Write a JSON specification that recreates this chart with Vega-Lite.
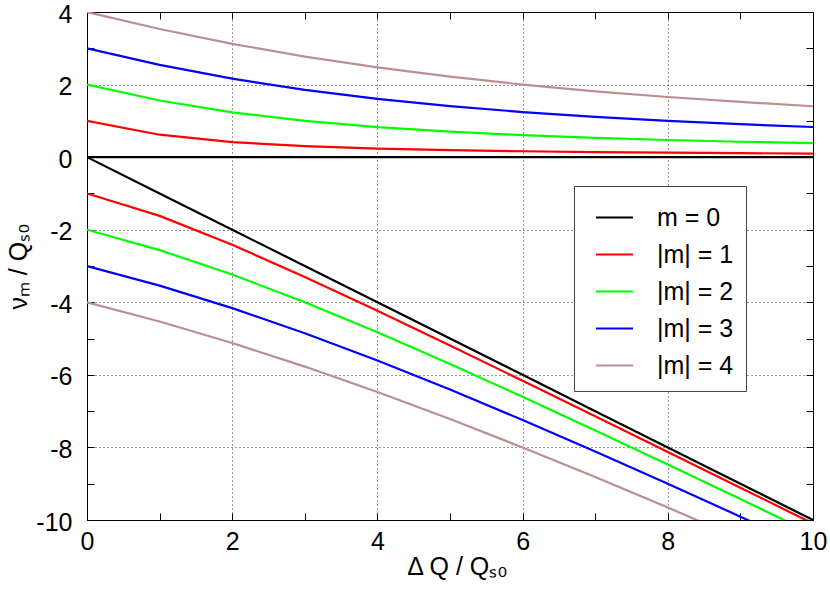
{
  "$schema": "https://vega.github.io/schema/vega-lite/v6.json",
  "width": 726,
  "height": 508,
  "autosize": {"type": "none"},
  "padding": {"left": 87, "top": 12, "right": 17, "bottom": 71},
  "background": "white",
  "config": {
    "font": "Liberation Sans",
    "view": {"stroke": "black", "strokeWidth": 1},
    "axis": {
      "labelFont": "Liberation Sans",
      "labelFontSize": 25,
      "labelColor": "black",
      "titleFont": "Liberation Sans",
      "titleFontSize": 25,
      "titleFontWeight": "normal",
      "titleColor": "black",
      "domainColor": "black",
      "domainWidth": 1,
      "tickColor": "black",
      "tickWidth": 1,
      "tickSize": -7,
      "gridColor": "#333333",
      "gridDash": [1, 3],
      "gridWidth": 1,
      "labelFlush": false,
      "labelOverlap": false
    }
  },
  "data": {
    "values": [
      {"s": "m = 0", "b": "u", "x": 0, "y": 0},
      {"s": "m = 0", "b": "u", "x": 1, "y": 0},
      {"s": "m = 0", "b": "u", "x": 2, "y": 0},
      {"s": "m = 0", "b": "u", "x": 3, "y": 0},
      {"s": "m = 0", "b": "u", "x": 4, "y": 0},
      {"s": "m = 0", "b": "u", "x": 5, "y": 0},
      {"s": "m = 0", "b": "u", "x": 6, "y": 0},
      {"s": "m = 0", "b": "u", "x": 7, "y": 0},
      {"s": "m = 0", "b": "u", "x": 8, "y": 0},
      {"s": "m = 0", "b": "u", "x": 9, "y": 0},
      {"s": "m = 0", "b": "u", "x": 10, "y": 0},
      {"s": "m = 0", "b": "l", "x": 0, "y": 0},
      {"s": "m = 0", "b": "l", "x": 1, "y": -1},
      {"s": "m = 0", "b": "l", "x": 2, "y": -2},
      {"s": "m = 0", "b": "l", "x": 3, "y": -3},
      {"s": "m = 0", "b": "l", "x": 4, "y": -4},
      {"s": "m = 0", "b": "l", "x": 5, "y": -5},
      {"s": "m = 0", "b": "l", "x": 6, "y": -6},
      {"s": "m = 0", "b": "l", "x": 7, "y": -7},
      {"s": "m = 0", "b": "l", "x": 8, "y": -8},
      {"s": "m = 0", "b": "l", "x": 9, "y": -9},
      {"s": "m = 0", "b": "l", "x": 10, "y": -10},
      {"s": "|m| = 1", "b": "u", "x": 0, "y": 1},
      {"s": "|m| = 1", "b": "u", "x": 1, "y": 0.618},
      {"s": "|m| = 1", "b": "u", "x": 2, "y": 0.414},
      {"s": "|m| = 1", "b": "u", "x": 3, "y": 0.303},
      {"s": "|m| = 1", "b": "u", "x": 4, "y": 0.236},
      {"s": "|m| = 1", "b": "u", "x": 5, "y": 0.193},
      {"s": "|m| = 1", "b": "u", "x": 6, "y": 0.162},
      {"s": "|m| = 1", "b": "u", "x": 7, "y": 0.140},
      {"s": "|m| = 1", "b": "u", "x": 8, "y": 0.123},
      {"s": "|m| = 1", "b": "u", "x": 9, "y": 0.110},
      {"s": "|m| = 1", "b": "u", "x": 10, "y": 0.099},
      {"s": "|m| = 1", "b": "l", "x": 0, "y": -1},
      {"s": "|m| = 1", "b": "l", "x": 1, "y": -1.618},
      {"s": "|m| = 1", "b": "l", "x": 2, "y": -2.414},
      {"s": "|m| = 1", "b": "l", "x": 3, "y": -3.303},
      {"s": "|m| = 1", "b": "l", "x": 4, "y": -4.236},
      {"s": "|m| = 1", "b": "l", "x": 5, "y": -5.193},
      {"s": "|m| = 1", "b": "l", "x": 6, "y": -6.162},
      {"s": "|m| = 1", "b": "l", "x": 7, "y": -7.140},
      {"s": "|m| = 1", "b": "l", "x": 8, "y": -8.123},
      {"s": "|m| = 1", "b": "l", "x": 9, "y": -9.110},
      {"s": "|m| = 1", "b": "l", "x": 10, "y": -10.099},
      {"s": "|m| = 2", "b": "u", "x": 0, "y": 2},
      {"s": "|m| = 2", "b": "u", "x": 1, "y": 1.562},
      {"s": "|m| = 2", "b": "u", "x": 2, "y": 1.236},
      {"s": "|m| = 2", "b": "u", "x": 3, "y": 1.0},
      {"s": "|m| = 2", "b": "u", "x": 4, "y": 0.828},
      {"s": "|m| = 2", "b": "u", "x": 5, "y": 0.702},
      {"s": "|m| = 2", "b": "u", "x": 6, "y": 0.606},
      {"s": "|m| = 2", "b": "u", "x": 7, "y": 0.531},
      {"s": "|m| = 2", "b": "u", "x": 8, "y": 0.472},
      {"s": "|m| = 2", "b": "u", "x": 9, "y": 0.424},
      {"s": "|m| = 2", "b": "u", "x": 10, "y": 0.385},
      {"s": "|m| = 2", "b": "l", "x": 0, "y": -2},
      {"s": "|m| = 2", "b": "l", "x": 1, "y": -2.562},
      {"s": "|m| = 2", "b": "l", "x": 2, "y": -3.236},
      {"s": "|m| = 2", "b": "l", "x": 3, "y": -4.0},
      {"s": "|m| = 2", "b": "l", "x": 4, "y": -4.828},
      {"s": "|m| = 2", "b": "l", "x": 5, "y": -5.702},
      {"s": "|m| = 2", "b": "l", "x": 6, "y": -6.606},
      {"s": "|m| = 2", "b": "l", "x": 7, "y": -7.531},
      {"s": "|m| = 2", "b": "l", "x": 8, "y": -8.472},
      {"s": "|m| = 2", "b": "l", "x": 9, "y": -9.424},
      {"s": "|m| = 2", "b": "l", "x": 10, "y": -10.385},
      {"s": "|m| = 3", "b": "u", "x": 0, "y": 3},
      {"s": "|m| = 3", "b": "u", "x": 1, "y": 2.541},
      {"s": "|m| = 3", "b": "u", "x": 2, "y": 2.162},
      {"s": "|m| = 3", "b": "u", "x": 3, "y": 1.854},
      {"s": "|m| = 3", "b": "u", "x": 4, "y": 1.606},
      {"s": "|m| = 3", "b": "u", "x": 5, "y": 1.405},
      {"s": "|m| = 3", "b": "u", "x": 6, "y": 1.243},
      {"s": "|m| = 3", "b": "u", "x": 7, "y": 1.110},
      {"s": "|m| = 3", "b": "u", "x": 8, "y": 1.0},
      {"s": "|m| = 3", "b": "u", "x": 9, "y": 0.908},
      {"s": "|m| = 3", "b": "u", "x": 10, "y": 0.831},
      {"s": "|m| = 3", "b": "l", "x": 0, "y": -3},
      {"s": "|m| = 3", "b": "l", "x": 1, "y": -3.541},
      {"s": "|m| = 3", "b": "l", "x": 2, "y": -4.162},
      {"s": "|m| = 3", "b": "l", "x": 3, "y": -4.854},
      {"s": "|m| = 3", "b": "l", "x": 4, "y": -5.606},
      {"s": "|m| = 3", "b": "l", "x": 5, "y": -6.405},
      {"s": "|m| = 3", "b": "l", "x": 6, "y": -7.243},
      {"s": "|m| = 3", "b": "l", "x": 7, "y": -8.110},
      {"s": "|m| = 3", "b": "l", "x": 8, "y": -9.0},
      {"s": "|m| = 3", "b": "l", "x": 9, "y": -9.908},
      {"s": "|m| = 3", "b": "l", "x": 10, "y": -10.831},
      {"s": "|m| = 4", "b": "u", "x": 0, "y": 4},
      {"s": "|m| = 4", "b": "u", "x": 1, "y": 3.531},
      {"s": "|m| = 4", "b": "u", "x": 2, "y": 3.123},
      {"s": "|m| = 4", "b": "u", "x": 3, "y": 2.772},
      {"s": "|m| = 4", "b": "u", "x": 4, "y": 2.472},
      {"s": "|m| = 4", "b": "u", "x": 5, "y": 2.217},
      {"s": "|m| = 4", "b": "u", "x": 6, "y": 2.0},
      {"s": "|m| = 4", "b": "u", "x": 7, "y": 1.815},
      {"s": "|m| = 4", "b": "u", "x": 8, "y": 1.657},
      {"s": "|m| = 4", "b": "u", "x": 9, "y": 1.521},
      {"s": "|m| = 4", "b": "u", "x": 10, "y": 1.403},
      {"s": "|m| = 4", "b": "l", "x": 0, "y": -4},
      {"s": "|m| = 4", "b": "l", "x": 1, "y": -4.531},
      {"s": "|m| = 4", "b": "l", "x": 2, "y": -5.123},
      {"s": "|m| = 4", "b": "l", "x": 3, "y": -5.772},
      {"s": "|m| = 4", "b": "l", "x": 4, "y": -6.472},
      {"s": "|m| = 4", "b": "l", "x": 5, "y": -7.217},
      {"s": "|m| = 4", "b": "l", "x": 6, "y": -8.0},
      {"s": "|m| = 4", "b": "l", "x": 7, "y": -8.815},
      {"s": "|m| = 4", "b": "l", "x": 8, "y": -9.657},
      {"s": "|m| = 4", "b": "l", "x": 9, "y": -10.521},
      {"s": "|m| = 4", "b": "l", "x": 10, "y": -11.403}
    ]
  },
  "layer": [
    {
      "mark": {"type": "line", "strokeWidth": 2.2, "clip": true},
      "encoding": {
        "x": {
          "field": "x",
          "type": "quantitative",
          "scale": {"domain": [0, 10], "nice": false, "zero": false},
          "axis": {
            "orient": "bottom",
            "values": [0, 1, 2, 3, 4, 5, 6, 7, 8, 9, 10],
            "labelExpr": "datum.value % 2 == 0 ? toString(datum.value) : ''",
            "labelPadding": 16,
            "title": "Δ Q / Qₛ₀",
            "titlePadding": 0,
            "titleX": 370,
            "grid": true,
            "gridOpacity": {"condition": {"test": "datum.value % 2 != 0", "value": 0}, "value": 1}
          }
        },
        "y": {
          "field": "y",
          "type": "quantitative",
          "scale": {"domain": [-10, 4], "nice": false, "zero": false},
          "axis": {
            "orient": "left",
            "values": [-10, -9, -8, -7, -6, -5, -4, -3, -2, -1, 0, 1, 2, 3, 4],
            "labelExpr": "datum.value % 2 == 0 ? toString(datum.value) : ''",
            "labelPadding": 22,
            "labelOffset": 2,
            "title": "νₘ / Qₛ₀",
            "titlePadding": 4,
            "grid": true,
            "gridOpacity": {"condition": {"test": "datum.value % 2 != 0", "value": 0}, "value": 1}
          }
        },
        "color": {
          "field": "s",
          "type": "nominal",
          "scale": {
            "domain": ["m = 0", "|m| = 1", "|m| = 2", "|m| = 3", "|m| = 4"],
            "range": ["#000000", "#ff0000", "#00ff00", "#0000ff", "#bc8f8f"]
          },
          "legend": {
            "title": null,
            "orient": "none",
            "legendX": 487,
            "legendY": 174,
            "symbolType": "stroke",
            "symbolSize": 1369,
            "symbolStrokeWidth": 2,
            "symbolOffset": 9,
            "labelFont": "Liberation Sans",
            "labelFontSize": 25,
            "labelColor": "black",
            "labelOffset": 23,
            "rowPadding": 4,
            "padding": 12,
            "strokeColor": "#444444",
            "fillColor": "white"
          }
        },
        "detail": {"field": "b"}
      }
    },
    {
      "mark": {"type": "line", "strokeOpacity": 0},
      "encoding": {
        "x": {
          "field": "x",
          "type": "quantitative",
          "scale": {"domain": [0, 10], "nice": false, "zero": false},
          "axis": {"orient": "top", "values": [0, 1, 2, 3, 4, 5, 6, 7, 8, 9, 10], "labels": false, "title": null, "grid": false}
        },
        "y": {
          "field": "y",
          "type": "quantitative",
          "scale": {"domain": [-10, 4], "nice": false, "zero": false},
          "axis": {"orient": "right", "values": [-10, -9, -8, -7, -6, -5, -4, -3, -2, -1, 0, 1, 2, 3, 4], "labels": false, "title": null, "grid": false}
        }
      }
    }
  ],
  "resolve": {"scale": {"x": "independent", "y": "independent"}}
}
